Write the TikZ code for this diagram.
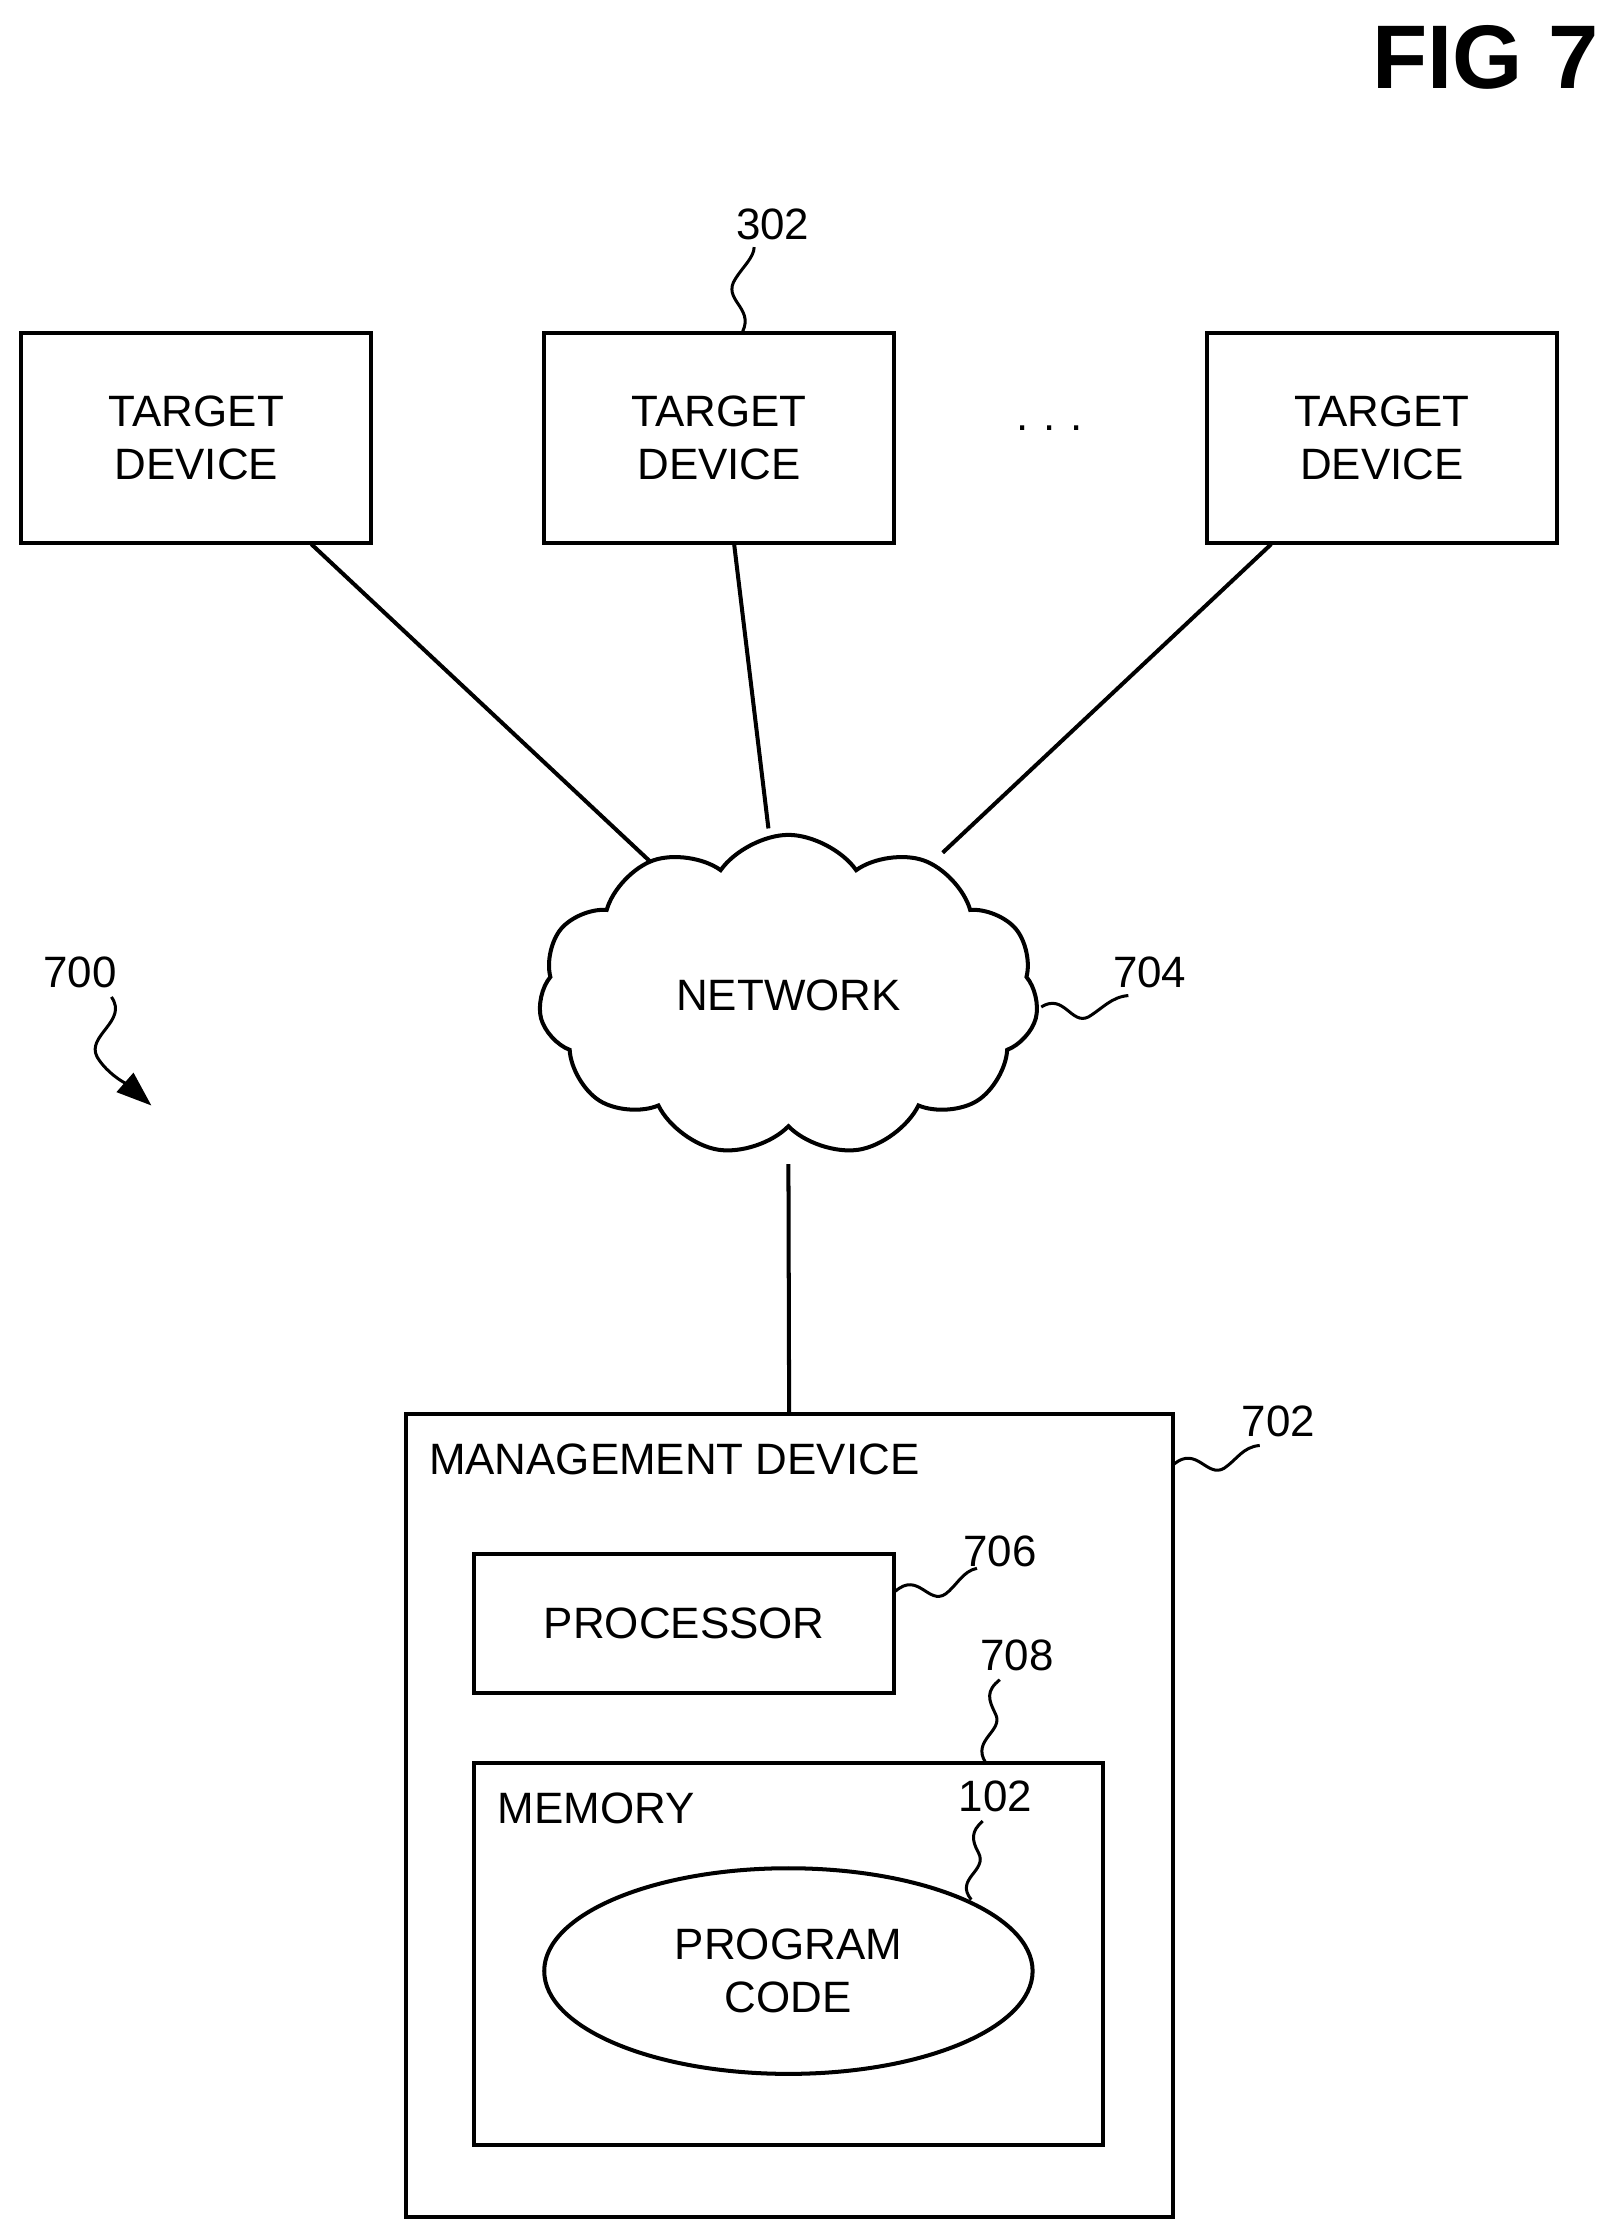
\documentclass[tikz,border=0pt]{standalone}
\usepackage{fontspec}
\setmainfont{Liberation Sans}
\usetikzlibrary{shapes.symbols,shapes.geometric,arrows.meta}
\begin{document}
\begin{tikzpicture}[x=0.02cm,y=-0.02cm,line width=1.6pt,
  every node/.style={font=\fontsize{17.5}{21}\selectfont},
  box/.style={draw,rectangle,inner sep=0pt,align=center},
  lab/.style={inner sep=1pt},
  sq/.style={line width=1.2pt}]
\useasboundingbox (0,0) rectangle (1130,1562);
\node[font=\fontsize{36}{40}\selectfont\bfseries] (fig) at (1040,40) {FIG 7};
\node[box,minimum width=4.9cm,minimum height=2.94cm] (t1) at (137.5,306.5) {TARGET\\DEVICE};
\node[box,minimum width=4.9cm,minimum height=2.94cm] (t2) at (503.5,306.5) {TARGET\\DEVICE};
\node[box,minimum width=4.9cm,minimum height=2.94cm] (t3) at (967.5,306.5) {TARGET\\DEVICE};
\node (dots) at (735,300) {.\,\,.\,\,.};
\node[cloud,draw,cloud puffs=11,cloud puff arc=110,aspect=1.4,minimum width=7.0cm,minimum height=4.5cm,inner sep=0pt] (net) at (552,697) {NETWORK};
\coordinate (c1) at (455,603);
\coordinate (c2) at (538,580);
\coordinate (c3) at (660,597);
\coordinate (c4) at (552,815);
\draw (218,381) coordinate (t1b) (t1b) -- (c1);
\draw (514,381) coordinate (t2b) (t2b) -- (c2);
\draw (890,381) coordinate (t3b) (t3b) -- (c3);
\node[box,minimum width=10.74cm,minimum height=11.24cm] (mg) at (552.5,1271) {};
\draw (c4) -- (mg.north);
\node[anchor=west,inner sep=0pt] (mgt) at (299,1022) {MANAGEMENT DEVICE};
\node[box,minimum width=5.88cm,minimum height=1.94cm] (proc) at (479,1136.5) {PROCESSOR};
\node[box,minimum width=8.8cm,minimum height=5.36cm] (mem) at (552,1368) {};
\node[anchor=west,inner sep=0pt] (memt) at (347,1266) {MEMORY};
\node[draw,ellipse,minimum width=6.84cm,minimum height=2.88cm,align=center,inner sep=0pt] (pc) at (552,1380) {PROGRAM\\CODE};
% labels
\node[lab] (l302) at (541,157) {302};
\draw[sq] (520,232) .. controls (528,215) and (505,210) .. (515,195) .. controls (520,187) and (528,180) .. (528,173);
\node[lab] (l704) at (805,681) {704};
\draw[sq] (729,705) .. controls (745,695) and (750,718) .. (762,712) .. controls (772,706) and (778,698) .. (790,697);
\node[lab] (l700) at (56,681) {700};
\draw[sq,-{Triangle[length=14pt,width=10pt]}] (78,698) .. controls (90,715) and (60,725) .. (68,740) .. controls (75,752) and (90,760) .. (106,774);
\node[lab] (l702) at (895,995) {702};
\draw[sq] (822,1025) .. controls (838,1012) and (845,1035) .. (857,1028) .. controls (866,1022) and (870,1013) .. (882,1012);
\node[lab] (l706) at (700,1086) {706};
\draw[sq] (627,1114) .. controls (643,1100) and (650,1124) .. (662,1116) .. controls (670,1110) and (674,1100) .. (684,1098);
\node[lab] (l708) at (712,1159) {708};
\draw[sq] (690,1234) .. controls (680,1218) and (703,1212) .. (697,1200) .. controls (692,1190) and (690,1184) .. (700,1176);
\node[lab] (l102) at (697,1258) {102};
\draw[sq] (680,1330) .. controls (668,1315) and (692,1310) .. (685,1297) .. controls (680,1288) and (680,1282) .. (688,1275);
\end{tikzpicture}
\end{document}
